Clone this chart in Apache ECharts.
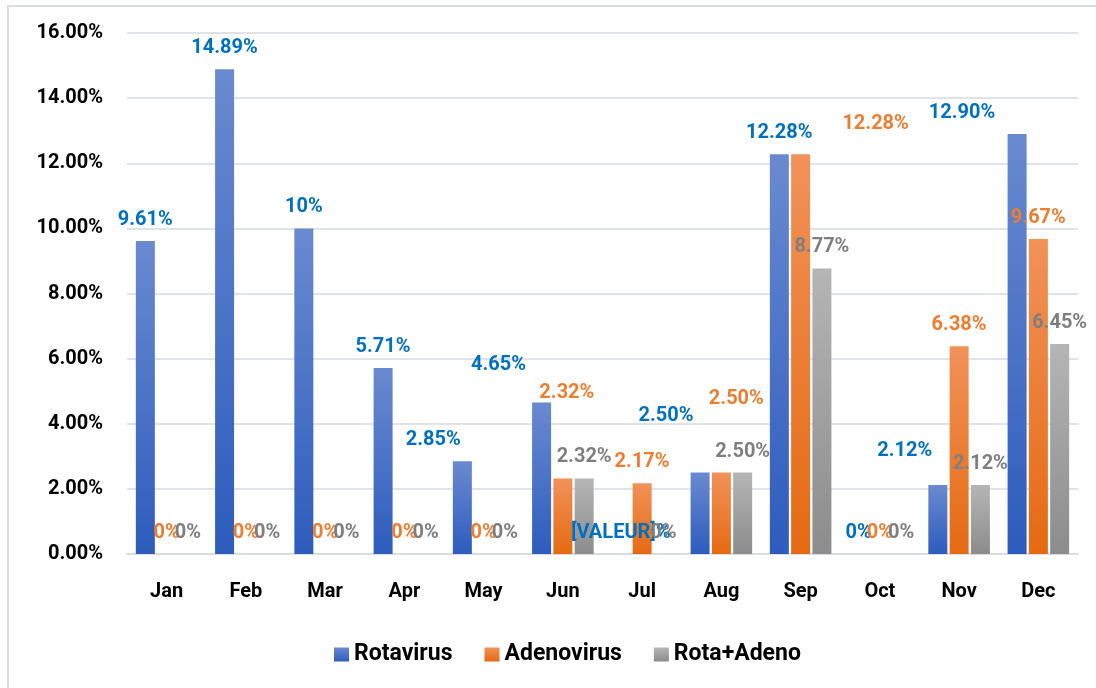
<!DOCTYPE html>
<html>
<head>
<meta charset="utf-8">
<script src="https://cdn.jsdelivr.net/npm/echarts@6/dist/echarts.min.js"></script>
<style>
  html, body { margin: 0; padding: 0; background: #fff; }
  #chart { width: 1096px; height: 688px; }
</style>
</head>
<body>
<div id="chart"></div>
<script>
// data
const months = ['Jan', 'Feb', 'Mar', 'Apr', 'May', 'Jun', 'Jul', 'Aug', 'Sep', 'Oct', 'Nov', 'Dec']
const rotavirus = [9.61, 14.89, 10, 5.71, 2.85, 4.65, 0, 2.50, 12.28, 0, 2.12, 12.90]
const adenovirus = [0, 0, 0, 0, 0, 2.32, 2.17, 2.50, 12.28, 0, 6.38, 9.67]
const rotaAdeno = [0, 0, 0, 0, 0, 2.32, 0, 2.50, 8.77, 0, 2.12, 6.45]
// label texts as shown in the picture
const rotaLabels = ['9.61%', '14.89%', '10%', '5.71%', '2.85%', '4.65%', '[VALEUR]%', '2.50%', '12.28%', '0%', '2.12%', '12.90%']
const adenoLabels = ['0%', '0%', '0%', '0%', '0%', '2.32%', '2.17%', '2.50%', '12.28%', '0%', '6.38%', '9.67%']
const bothLabels = ['0%', '0%', '0%', '0%', '0%', '2.32%', '0%', '2.50%', '8.77%', '0%', '2.12%', '6.45%']

// labels that were dragged around by hand in the original
const rotaShift = { 4: [-29, 0], 5: [-43, -17], 7: [-34, -36], 10: [-33, -13], 11: [-55, 0] }
const adenoShift = { 5: [4, -64], 7: [15, -53], 8: [75, -9] }
const bothShift = {}

const font = 'Roboto'

function gradient(top, bottom) {
  return new echarts.graphic.LinearGradient(0, 0, 0, 1, [
    { offset: 0, color: top },
    { offset: 1, color: bottom },
  ])
}

function items(values, labels, shift) {
  return values.map((v, i) => ({
    value: v,
    label: { formatter: labels[i], offset: shift[i] || [0, 0] },
  }))
}

function series(name, values, labels, shift, colors, labelColor) {
  return {
    name,
    type: 'bar',
    barWidth: 19,
    barGap: '12%',
    itemStyle: { color: gradient(colors[0], colors[1]) },
    label: {
      show: true,
      position: 'top',
      distance: 11,
      color: labelColor,
      fontFamily: font,
      fontWeight: 'bold',
      fontSize: 20,
    },
    data: items(values, labels, shift),
  }
}

const chart = echarts.init(document.getElementById('chart'))

chart.setOption({
  animation: false,
  graphic: [{
    type: 'rect',
    shape: { x: 8, y: 6, width: 1100, height: 700 },
    style: { fill: 'none', stroke: '#d9dde3', lineWidth: 2 },
    silent: true,
  }],
  grid: { left: 127, right: 18, top: 33, bottom: 134 },
  legend: {
    bottom: 17,
    left: 329,
    itemWidth: 15,
    itemHeight: 14,
    itemGap: 32,
    icon: 'rect',
    textStyle: { fontFamily: font, fontWeight: 'bold', fontSize: 23, color: '#000' },
    data: ['Rotavirus', 'Adenovirus', 'Rota+Adeno'],
  },
  xAxis: {
    type: 'category',
    data: months,
    axisLine: { lineStyle: { color: '#d9dde3', width: 2 } },
    axisTick: { show: false },
    axisLabel: { margin: 28, color: '#000', fontFamily: font, fontWeight: 'bold', fontSize: 20 },
  },
  yAxis: {
    type: 'value',
    min: 0,
    max: 16,
    interval: 2,
    axisLine: { show: false },
    axisTick: { show: false },
    splitLine: { lineStyle: { color: '#dfe3e8', width: 2 } },
    axisLabel: {
      margin: 24,
      color: '#000',
      fontFamily: font,
      fontWeight: 'bold',
      fontSize: 20,
      formatter: v => v.toFixed(2) + '%',
    },
  },
  series: [
    series('Rotavirus', rotavirus, rotaLabels, rotaShift, ['#6a8ad0', '#2d5cbd'], '#0070c0'),
    series('Adenovirus', adenovirus, adenoLabels, adenoShift, ['#f19259', '#e56a12'], '#ed7d31'),
    series('Rota+Adeno', rotaAdeno, bothLabels, bothShift, ['#b5b5b5', '#8c8c8c'], '#7f7f7f'),
  ],
})
</script>
</body>
</html>
